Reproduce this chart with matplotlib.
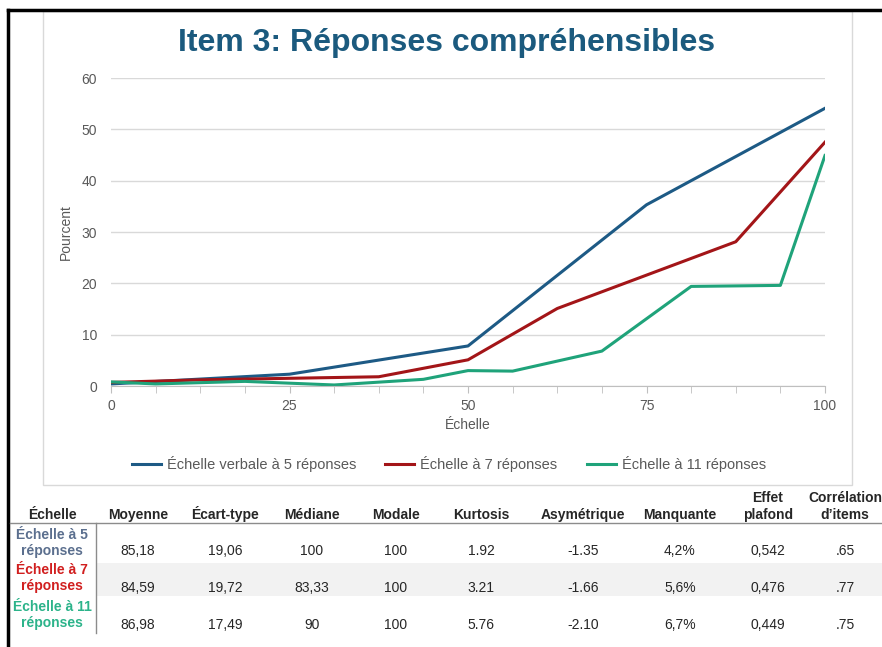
import matplotlib.pyplot as plt
from matplotlib.lines import Line2D
from matplotlib.patches import Rectangle

plt.rcParams['font.family'] = ['Liberation Sans', 'DejaVu Sans']

# positions on the scale axis (0-100) and percentages for each series
x5 = [0, 25, 50, 75, 100]
y5 = [0.4, 2.3, 7.8, 35.3, 54.1]
x7 = [0, 12.5, 37.5, 50, 62.5, 87.5, 100]
y7 = [0.7, 1.2, 1.8, 5.1, 15.1, 28.1, 47.5]
x11 = [0, 6.25, 18.75, 31.25, 43.75, 50, 56.25, 68.75, 81.25, 93.75, 100]
y11 = [0.8, 0.4, 0.9, 0.2, 1.3, 3.0, 2.9, 6.8, 19.4, 19.6, 44.9]

series_names = ['Échelle verbale à 5 réponses', 'Échelle à 7 réponses', 'Échelle à 11 réponses']
series_colors = ['#1d5a85', '#a31518', '#1fa37a']

# summary table
col_headers = ['Échelle', 'Moyenne', 'Écart-type', 'Médiane', 'Modale', 'Kurtosis',
               'Asymétrique', 'Manquante', 'Effet\nplafond', 'Corrélation\nd\u2019items']
row_labels = ['Échelle à 5\nréponses', 'Échelle à 7\nréponses', 'Échelle à 11\nréponses']
row_colors = ['#5b6f8e', '#d11f1f', '#2cb38a']
table_rows = [
    ['85,18', '19,06', '100', '100', '1.92', '-1.35', '4,2%', '0,542', '.65'],
    ['84,59', '19,72', '83,33', '100', '3.21', '-1.66', '5,6%', '0,476', '.77'],
    ['86,98', '17,49', '90', '100', '5.76', '-2.10', '6,7%', '0,449', '.75'],
]

W, H = 882, 647
fig = plt.figure(figsize=(W / 100, H / 100), dpi=100)

def fx(px):
    return px / W

def fy(py):
    return 1 - py / H

# chart panel border and outer frame
fig.add_artist(Rectangle((fx(43), fy(485)), fx(852) - fx(43), fy(11) - fy(485),
                         fill=False, edgecolor='#d9d9d9', lw=1))
fig.add_artist(Line2D([fx(8), 1], [fy(10), fy(10)], color='black', lw=2.5))
fig.add_artist(Line2D([fx(8), fx(8)], [fy(10), 0], color='black', lw=2.5))

fig.text(fx(447), fy(43), 'Item 3: Réponses compréhensibles', ha='center', va='center',
         fontsize=23, fontweight='bold', color='#1b5a7e')

ax = fig.add_axes([fx(111), fy(386), fx(825) - fx(111), fy(78) - fy(386)])
ax.plot(x5, y5, color=series_colors[0], lw=2.2, label=series_names[0])
ax.plot(x7, y7, color=series_colors[1], lw=2.2, label=series_names[1])
ax.plot(x11, y11, color=series_colors[2], lw=2.2, label=series_names[2])

ax.set_xlim(0, 100)
ax.set_ylim(0, 60)
ax.set_yticks(range(0, 61, 10))
ax.set_xticks([0, 25, 50, 75, 100])
ax.set_xticks([i * 6.25 for i in range(17)], minor=True)
ax.grid(axis='y', color='#d9d9d9', lw=1)
ax.set_axisbelow(True)
for s in ['left', 'right', 'top']:
    ax.spines[s].set_visible(False)
ax.spines['bottom'].set_color('#bfbfbf')
ax.tick_params(axis='y', length=0, labelsize=10, labelcolor='#595959', pad=10)
ax.tick_params(axis='x', which='both', length=5, color='#bfbfbf', labelsize=10,
               labelcolor='#595959', pad=4)
ax.set_xlabel('Échelle', fontsize=10, color='#595959', labelpad=4)
ax.set_ylabel('Pourcent', fontsize=10, color='#595959', labelpad=6)
ax.legend(loc='center', bbox_to_anchor=(0.473, (fy(464) - fy(386)) / (fy(78) - fy(386))),
          ncol=3, frameon=False, fontsize=10.5, handlelength=2.0, handletextpad=0.4,
          columnspacing=2.0, labelcolor='#595959')

# table
col_x = [52, 138, 225, 312, 396, 481, 583, 680, 768, 845]
fig.add_artist(Rectangle((fx(97), fy(596)), 1 - fx(97), fy(563) - fy(596),
                         facecolor='#f2f2f2', edgecolor='none'))
fig.add_artist(Line2D([fx(10), 1], [fy(523), fy(523)], color='#8c8c8c', lw=1))
fig.add_artist(Line2D([fx(96), fx(96)], [fy(523), fy(633)], color='#8c8c8c', lw=1))

for x, h in zip(col_x, col_headers):
    fig.text(fx(x), fy(522), h, ha='center', va='bottom', fontsize=10,
             fontweight='bold', color='#262626', linespacing=1.25)

label_y = [543, 578, 615]
value_y = [551, 588, 625]
for i, row in enumerate(table_rows):
    fig.text(fx(col_x[0]), fy(label_y[i]), row_labels[i], ha='center', va='center',
             fontsize=10, fontweight='bold', color=row_colors[i], linespacing=1.25)
    for x, v in zip(col_x[1:], row):
        fig.text(fx(x), fy(value_y[i]), v, ha='center', va='center', fontsize=10,
                 color='#262626')

fig.savefig('out.png', dpi=100)
